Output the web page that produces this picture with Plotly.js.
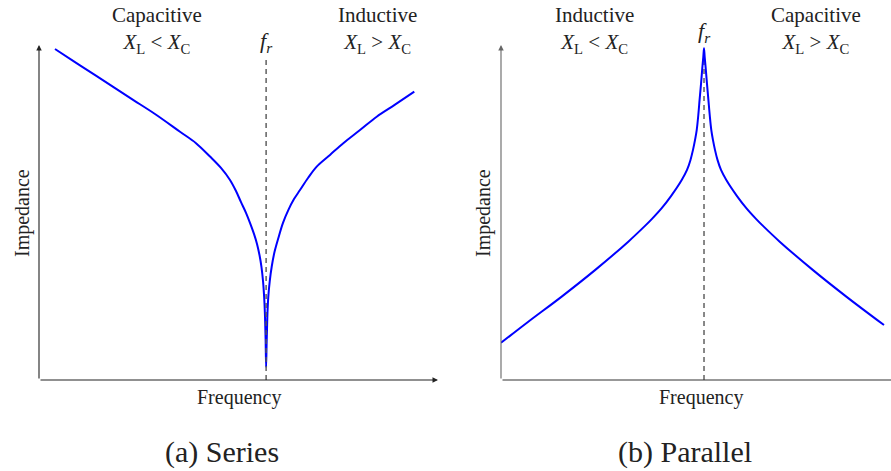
<!DOCTYPE html>
<html>
<head>
<meta charset="utf-8">
<script src="https://cdn.plot.ly/plotly-3.0.1.min.js"></script>
</head>
<body style="margin:0">
<div id="chart" style="width:891px;height:471px"></div>
<script>
// Series RLC: impedance magnitude vs frequency (arbitrary units)
const seriesFreq = [0.401, 0.902, 1.446, 2.281, 2.907, 3.534, 3.935, 4.286, 4.561, 4.787, 4.937, 5.063,
                    5.188, 5.288, 5.388, 5.464, 5.526, 5.576, 5.614, 5.644, 5.664, 5.679, 5.692,
                    5.704, 5.714, 5.727, 5.747, 5.784, 5.832, 5.902, 5.997, 6.115, 6.248, 6.391,
                    6.541, 6.742, 6.960, 7.293, 7.627, 8.045, 8.464, 8.922, 9.406];
const seriesImp  = [9.88, 9.49, 9.07, 8.42, 7.94, 7.41, 7.07, 6.67, 6.33, 5.97, 5.64, 5.31,
                    4.99, 4.69, 4.36, 4.06, 3.73, 3.37, 2.96, 2.45, 1.91, 1.25, 0.39,
                    1.04, 1.49, 2.03, 2.49, 2.96, 3.38, 3.82, 4.23, 4.69, 5.07, 5.40,
                    5.67, 6.03, 6.37, 6.72, 7.07, 7.46, 7.86, 8.22, 8.61];
const seriesRes = 5.692;

// Parallel RLC: impedance magnitude vs frequency (arbitrary units)
const parallelFreq = [0.000, 0.684, 1.521, 2.356, 3.190, 3.609, 3.784, 4.028, 4.261, 4.529, 4.662,
                      4.749, 4.812, 4.862, 4.905, 4.945, 4.977, 5.013, 5.045, 5.070, 5.088,
                      5.105, 5.130, 5.163, 5.198, 5.231, 5.271, 5.313, 5.363, 5.426, 5.514,
                      5.647, 5.915, 6.148, 6.391, 6.566, 6.985, 7.820, 8.654, 9.599];
const parallelImp  = [1.11, 1.74, 2.49, 3.28, 4.13, 4.60, 4.81, 5.13, 5.49, 5.97, 6.27,
                      6.57, 6.87, 7.16, 7.46, 7.91, 8.36, 8.84, 9.31, 9.64, 9.90,
                      9.64, 9.31, 8.84, 8.36, 7.91, 7.46, 7.16, 6.87, 6.57, 6.27,
                      5.97, 5.49, 5.13, 4.81, 4.60, 4.13, 3.28, 2.49, 1.64];
const parallelRes = 5.088;

const captions = ['(a) Series', '(b) Parallel'];
const axisNames = ['Frequency', 'Impedance'];
const regionNames = ['Capacitive', 'Inductive', 'Inductive', 'Capacitive'];
const regionRel = ['&lt;', '&gt;', '&lt;', '&gt;'];
const resLabel = '<i>f</i><sub><i>r</i></sub>';

const W = 891, H = 471;
const px = v => v / W;
const py = v => 1 - v / H;

const serif = 'Liberation Serif';
const blue = '#0000ff';

const traces = [
  { x: seriesFreq, y: seriesImp, xaxis: 'x', yaxis: 'y', mode: 'lines',
    line: { color: blue, width: 2, shape: 'spline', smoothing: 1 }, hoverinfo: 'skip' },
  { x: [seriesRes, seriesRes], y: [0, 9.55], xaxis: 'x', yaxis: 'y', mode: 'lines',
    line: { color: '#555', width: 1.4, dash: '5px,4px' }, hoverinfo: 'skip' },
  { x: [parallelRes, parallelRes], y: [0, 9.9], xaxis: 'x2', yaxis: 'y2', mode: 'lines',
    line: { color: '#555', width: 1.4, dash: '5px,4px' }, hoverinfo: 'skip' },
  { x: parallelFreq, y: parallelImp, xaxis: 'x2', yaxis: 'y2', mode: 'lines',
    line: { color: blue, width: 2, shape: 'spline', smoothing: 1 }, hoverinfo: 'skip' }
];

const hidden = { showline: false, showgrid: false, zeroline: false, showticklabels: false, ticks: '' };

// axis lines drawn as arrows
function arrow(xref, yref, x, y, ax, ay, color) {
  return { xref, yref, axref: xref, ayref: yref, x, y, ax, ay, text: '', showarrow: true,
           arrowhead: 2, arrowsize: 1, arrowwidth: 1.1, arrowcolor: color };
}

function label(x, y, text, size, extra) {
  return Object.assign({ xref: 'paper', yref: 'paper', x: px(x), y: py(y), text,
    showarrow: false, xanchor: 'center', yanchor: 'middle',
    font: { family: serif, size: size, color: '#222' } }, extra || {});
}

function region(i) {
  return regionNames[i] + '<br><i>X</i><sub>L</sub> ' + regionRel[i] + ' <i>X</i><sub>C</sub>';
}

const annotations = [
  arrow('x', 'y', 0, 10, 0, 0, '#222'),
  arrow('x', 'y', 10, 0, 0, 0, '#222'),
  arrow('x2', 'y2', 0, 10, 0, 0, '#666'),
  arrow('x2', 'y2', 10.3, 0, 0, 0, '#333'),

  label(157, 30, region(0), 21),
  label(377, 30, region(1), 21),
  label(594, 30, region(2), 21),
  label(816, 30, region(3), 21),
  label(266, 42, resLabel, 22),
  label(704, 32, resLabel, 22),

  label(239, 397, axisNames[0], 20),
  label(701, 397, axisNames[0], 20),
  label(22, 213, axisNames[1], 20, { textangle: -90 }),
  label(483, 213, axisNames[1], 20, { textangle: -90 }),

  label(222, 452, captions[0], 30),
  label(685, 452, captions[1], 30)
];

const layout = {
  width: W, height: H,
  margin: { l: 0, r: 0, t: 0, b: 0 },
  paper_bgcolor: '#fff', plot_bgcolor: 'rgba(0,0,0,0)',
  showlegend: false,
  font: { family: serif },
  xaxis:  Object.assign({ domain: [px(39), px(438)], range: [0, 10] }, hidden),
  yaxis:  Object.assign({ domain: [py(380), py(45)], range: [0, 10] }, hidden),
  xaxis2: Object.assign({ domain: [px(501), 1], range: [0, 390 / 39.9], anchor: 'y2' }, hidden),
  yaxis2: Object.assign({ domain: [py(380), py(45)], range: [0, 10], anchor: 'x2' }, hidden),
  annotations
};

// pin the serif face on every rendered label
function applySerif(gd) {
  gd.querySelectorAll('text, tspan').forEach(el => {
    el.style.setProperty('font-family', "'Liberation Serif', 'Times New Roman', serif", 'important');
    el.setAttribute('font-family', "'Liberation Serif', 'Times New Roman', serif");
  });
}

const gd = document.getElementById('chart');
Plotly.newPlot(gd, traces, layout, { displayModeBar: false }).then(() => {
  applySerif(gd);
  gd.on('plotly_afterplot', () => applySerif(gd));
});
</script>
</body>
</html>
